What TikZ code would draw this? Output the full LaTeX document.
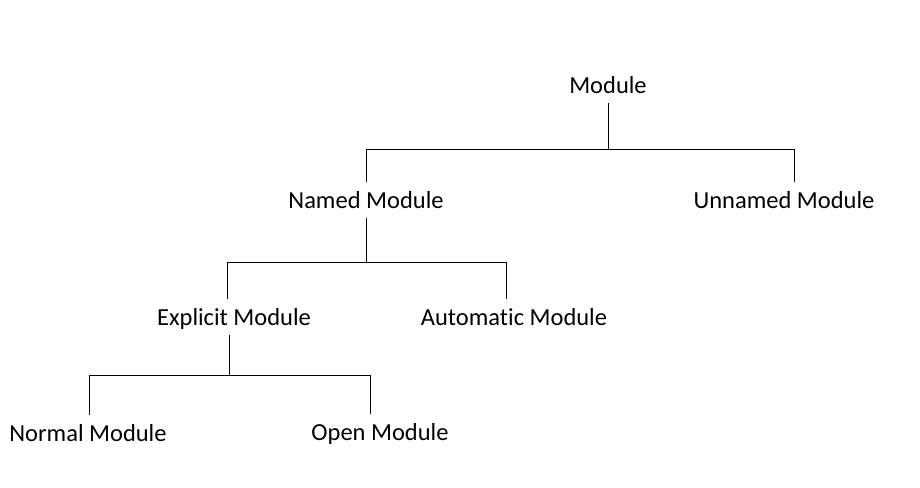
\documentclass[tikz,border=0pt]{standalone}
\usepackage{fontspec}
\setmainfont[Ligatures={NoCommon}]{Carlito}
\begin{document}
\begin{tikzpicture}[x=1pt,y=-1pt,
  lbl/.style={anchor=base,inner xsep=0pt,inner ysep=10pt,text height=16pt,text depth=0pt,font=\fontsize{24.5}{30}\selectfont},
  link/.style={draw=black,line width=1pt}]
\useasboundingbox[fill=white] (0,0) rectangle (920,487);
% nodes (at baseline)
\node[lbl] (m)  at (608,93)  {Module};
\node[lbl] (nm) at (366,208) {Named Module};
\node[lbl] (um) at (784,208) {Unnamed Module};
\node[lbl] (em) at (234,325) {Explicit Module};
\node[lbl] (am) at (514,325) {Automatic Module};
\node[lbl] (no) at (88,441)  {Normal Module};
\node[lbl] (om) at (380,440) {Open Module};
% bar corners
\coordinate (b1l) at (366,149);
\coordinate (b1r) at (794,149);
\coordinate (b2l) at (227,262);
\coordinate (b2r) at (506,262);
\coordinate (b3l) at (89,375);
\coordinate (b3r) at (370,375);
% connectors
\draw[link] (m.south) -- (m.south |- b1l);
\draw[link] (nm.north |- b1l) -- (b1l) -- (b1r) -- (b1r |- um.north);
\draw[link] (b1l) -- (nm.north);
\draw[link] (nm.south) -- (nm.south |- b2l);
\draw[link] (b2l |- em.north) -- (b2l) -- (b2r) -- (b2r |- am.north);
\draw[link] ([xshift=-5pt]em.south) -- ([xshift=-5pt]em.south |- b3l);
\draw[link] (b3l |- no.north) -- (b3l) -- (b3r) -- (b3r |- om.north);
\end{tikzpicture}
\end{document}
